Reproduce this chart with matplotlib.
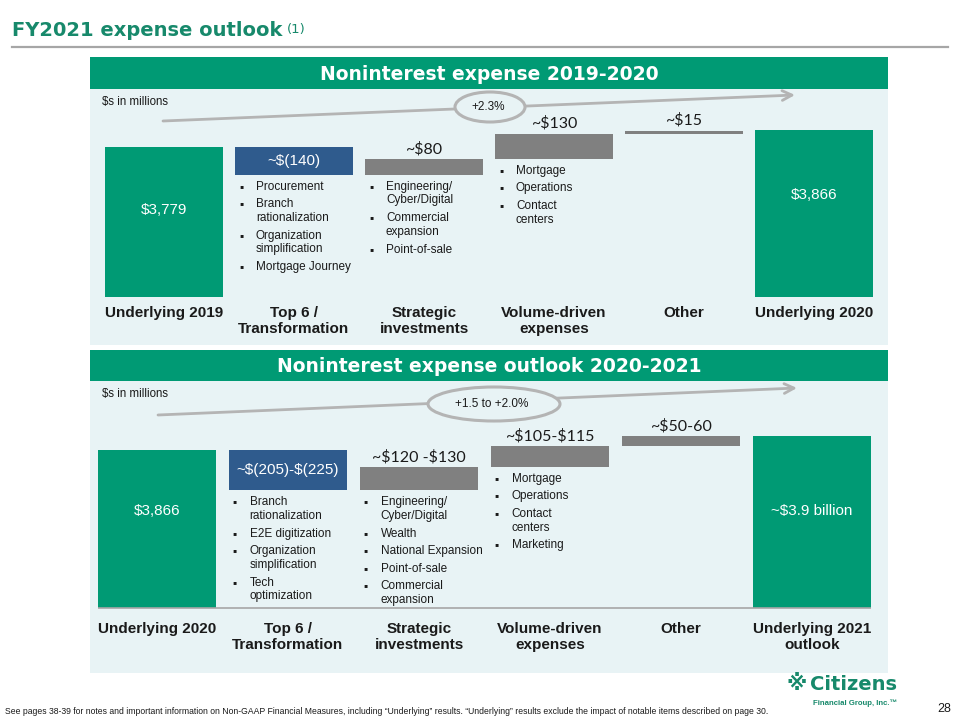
import matplotlib
matplotlib.use("Agg")
import matplotlib.pyplot as plt
from matplotlib.patches import Rectangle, Ellipse

# ---- data ----
cats_2020 = ["Underlying 2019", "Top 6 /\nTransformation", "Strategic\ninvestments",
             "Volume-driven\nexpenses", "Other", "Underlying 2020"]
start_2020 = 3779
deltas_2020 = [-140, 80, 130, 15]
end_2020 = 3866
labels_2020 = ["$3,779", "~$(140)", "~$80", "~$130", "~$15", "$3,866"]
bullets_2020 = [
    ["Procurement", "Branch\nrationalization", "Organization\nsimplification", "Mortgage Journey"],
    ["Engineering/\nCyber/Digital", "Commercial\nexpansion", "Point-of-sale"],
    ["Mortgage", "Operations", "Contact\ncenters"],
    [],
]
growth_2020 = "+2.3%"

cats_2021 = ["Underlying 2020", "Top 6 /\nTransformation", "Strategic\ninvestments",
             "Volume-driven\nexpenses", "Other", "Underlying 2021\noutlook"]
start_2021 = 3866
deltas_2021 = [-215, 125, 110, 55]
end_2021 = 3941
labels_2021 = ["$3,866", "~$(205)-$(225)", "~$120 -$130", "~$105-$115", "~$50-60", "~$3.9 billion"]
bullets_2021 = [
    ["Branch\nrationalization", "E2E digitization", "Organization\nsimplification", "Tech\noptimization"],
    ["Engineering/\nCyber/Digital", "Wealth", "National Expansion", "Point-of-sale", "Commercial\nexpansion"],
    ["Mortgage", "Operations", "Contact\ncenters", "Marketing"],
    [],
]
growth_2021 = "+1.5 to +2.0%"

# ---- style ----
GREEN = "#009a74"
TITLE_GREEN = "#17896b"
BLUE = "#2f5b8d"
GREY = "#808080"
PANEL = "#e8f3f5"
LINE = "#b4b4b4"
TXT = "#1a1a1a"
W, H = 960, 720


def fbox(x0, y0, x1, y1):
    # pixel box (top-left origin) -> figure fraction
    return [x0 / W, 1 - y1 / H, (x1 - x0) / W, (y1 - y0) / H]


fig = plt.figure(figsize=(9.6, 7.2), dpi=100)
fig.patch.set_facecolor("white")

bg = fig.add_axes([0, 0, 1, 1], zorder=0)
bg.set_xlim(0, W)
bg.set_ylim(H, 0)
bg.axis("off")

# title
title = bg.text(12, 31, "FY2021 expense outlook", fontsize=14, fontweight="bold",
                color=TITLE_GREEN, va="center", ha="left", family="DejaVu Sans")
bg.annotate("(1)", xy=(1, 1), xycoords=title, xytext=(3, -1), textcoords="offset points",
            fontsize=9.5, color=TITLE_GREEN, va="top", ha="left", family="DejaVu Sans")
bg.plot([12, 948], [47, 47], color="#a6a6a6", lw=1.6)


def panel(y_head, y_body, y_end, header, growth, line_pts, ell):
    bg.add_patch(Rectangle((90, y_head), 798, y_body - y_head, color=GREEN, lw=0))
    bg.add_patch(Rectangle((90, y_body), 798, y_end - y_body, color=PANEL, lw=0))
    bg.text(489, (y_head + y_body) / 2 + 1, header, color="white", fontsize=13.5,
            fontweight="bold", ha="center", va="center", family="DejaVu Sans")
    bg.text(102, y_body + 13, "$s in millions", fontsize=8.3, color=TXT, ha="left",
            va="center", family="Liberation Sans", parse_math=False)
    (x0, y0), (x1, y1) = line_pts
    bg.annotate("", xy=(x1, y1), xytext=(x0, y0),
                arrowprops=dict(arrowstyle="->,head_length=0.7,head_width=0.35",
                                color=LINE, lw=2, shrinkA=0, shrinkB=0))
    cx, cy, ew, eh = ell
    bg.add_patch(Ellipse((cx, cy), ew, eh, fc=PANEL, ec=LINE, lw=2.2, zorder=3))
    bg.text(cx - 2, cy, growth, fontsize=8.5, color=TXT, ha="center", va="center",
            family="Liberation Sans", zorder=4)


panel(57, 89, 345, "Noninterest expense 2019-2020", growth_2020,
      ((163, 121), (795, 95)), (490, 107, 70, 30))
panel(350, 381, 673, "Noninterest expense outlook 2020-2021", growth_2021,
      ((158, 415), (797, 388)), (494, 404, 132, 34))


def waterfall(box, xlim, ylim, cats, start, deltas, end, labels, bullets,
              drops, tick_pad, baseline):
    ax = fig.add_axes(box, zorder=2)
    ax.set_facecolor("none")
    ax.set_xlim(*xlim)
    ax.set_ylim(*ylim)
    width = 0.908
    n = len(cats)
    ax.bar(0, start, width=width, color=GREEN, zorder=2)
    ax.bar(n - 1, end, width=width, color=GREEN, zorder=2)
    level = start
    for i, d in enumerate(deltas, start=1):
        bottom = level + min(d, 0)
        ax.bar(i, abs(d), bottom=bottom, width=width,
               color=BLUE if d < 0 else GREY, zorder=2)
        if d < 0:
            ax.text(i, bottom + abs(d) / 2, labels[i], color="white", fontsize=11,
                    ha="center", va="center", family="Liberation Sans", parse_math=False)
        else:
            ax.annotate(labels[i], xy=(i, level + d), xytext=(0, 2),
                        textcoords="offset points", fontsize=11.5, color=TXT,
                        ha="center", va="bottom", family="Lato", parse_math=False)
        # bullet list under the bar
        yoff = 6
        for item in bullets[i - 1]:
            nl = item.count("\n") + 1
            ax.annotate("\u25aa", xy=(i - width / 2, bottom), xytext=(4 * 0.72, -yoff * 0.72),
                        textcoords="offset points", fontsize=8.5, color=TXT,
                        ha="left", va="top", family="Liberation Sans")
            ax.annotate(item, xy=(i - width / 2, bottom), xytext=(21 * 0.72, -yoff * 0.72),
                        textcoords="offset points", fontsize=8.5, color=TXT,
                        ha="left", va="top", linespacing=1.2, family="Liberation Sans")
            yoff += nl * 14 + 3.5
        level += d
    for idx, val in ((0, start), (n - 1, end)):
        ax.annotate(labels[idx], xy=(idx, val), xytext=(0, -drops[idx > 0] * 0.72),
                    textcoords="offset points", color="white", fontsize=11,
                    ha="center", va="center", family="Liberation Sans", parse_math=False)
    ax.set_xticks(range(n))
    ax.set_xticklabels(cats, fontsize=11, fontweight="bold", color=TXT,
                       family="Liberation Sans", linespacing=1.2)
    ax.tick_params(axis="x", length=0, pad=tick_pad)
    ax.set_yticks([])
    for s in ax.spines.values():
        s.set_visible(False)
    if baseline:
        ax.hlines(ylim[0], -width / 2, n - 1 + width / 2, color="#a6a6a6", lw=1.2,
                  clip_on=False, zorder=3)
    return ax


waterfall(fbox(90, 88, 888, 297), (-74 / 130, 724 / 130), (3011, 3011 + 209 / 0.195),
          cats_2020, start_2020, deltas_2020, end_2020, labels_2020, bullets_2020,
          (63, 65), 6.5, False)
waterfall(fbox(90, 381, 888, 608), (-67 / 131, 731 / 131), (3021, 3021 + 227 / 0.187),
          cats_2021, start_2021, deltas_2021, end_2021, labels_2021, bullets_2021,
          (61, 75), 10, True)

# footer
bg.text(5, 712, "See pages 38-39 for notes and important information on Non-GAAP Financial "
        "Measures, including \u201cUnderlying\u201d results. \u201cUnderlying\u201d results "
        "exclude the impact of notable items described on page 30.",
        fontsize=6.25, color=TXT, ha="left", va="center", family="Liberation Sans")
bg.text(797, 684, "\u203b", fontsize=15, fontweight="bold", color=TITLE_GREEN,
        ha="center", va="center", family="DejaVu Sans")
bg.text(810, 685, "Citizens", fontsize=14, fontweight="bold", color=TITLE_GREEN,
        ha="left", va="center", family="DejaVu Sans")
bg.text(813, 703, "Financial Group, Inc.\u2122", fontsize=5.6, fontweight="bold",
        color=TITLE_GREEN, ha="left", va="center", family="Liberation Sans")
bg.text(944, 709, "28", fontsize=9, color=TXT, ha="center", va="center",
        family="Liberation Sans")

fig.savefig("out.png", dpi=100)
